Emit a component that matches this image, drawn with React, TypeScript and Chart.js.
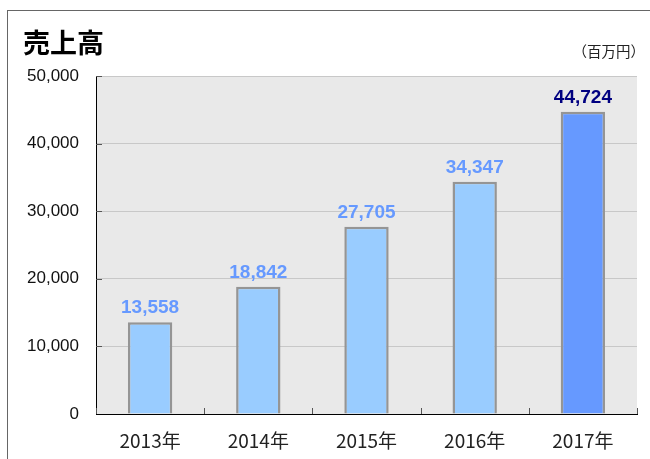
import React, { useEffect, useRef } from "react";
import { Chart, registerables } from "chart.js";

Chart.register(...registerables);

const categories = ["2013年", "2014年", "2015年", "2016年", "2017年"];
const sales = [13558, 18842, 27705, 34347, 44724];
const yMin = 0;
const yMax = 50000;
const yStep = 10000;
const titleText = "売上高";
const unitText = "（百万円）";

const barFill = ["#99ccff", "#99ccff", "#99ccff", "#99ccff", "#6699ff"];
const labelColor = ["#6699ff", "#6699ff", "#6699ff", "#6699ff", "#000080"];

const decorPlugin = {
  id: "decor",
  beforeDraw(chart: any) {
    const { ctx, chartArea } = chart;
    ctx.save();
    ctx.fillStyle = "#ffffff";
    ctx.fillRect(0, 0, chart.width, chart.height);
    // outer frame
    ctx.strokeStyle = "#666666";
    ctx.lineWidth = 1;
    ctx.strokeRect(7.5, 10.5, chart.width + 20, chart.height + 20);
    // plot background
    ctx.fillStyle = "#e9e9e9";
    ctx.fillRect(chartArea.left, chartArea.top, chartArea.right - chartArea.left, chartArea.bottom - chartArea.top);
    // title
    ctx.fillStyle = "#000000";
    ctx.textBaseline = "middle";
    ctx.textAlign = "left";
    ctx.font = "bold 27px 'Noto Sans CJK JP'";
    ctx.fillText(titleText, 23, 43);
    ctx.font = "14.5px 'Noto Sans CJK JP'";
    ctx.textAlign = "right";
    ctx.fillStyle = "#222222";
    ctx.fillText(unitText, 645, 51);
    ctx.restore();
  },
  afterDraw(chart: any) {
    const { ctx, chartArea } = chart;
    const x = chart.scales.x;
    const y = chart.scales.y;
    ctx.save();
    ctx.strokeStyle = "#555555";
    ctx.lineWidth = 1;
    ctx.beginPath();
    for (let i = 0; i <= categories.length; i++) {
      const px = Math.round(x.getPixelForValue(i - 0.5)) + 0.5;
      ctx.moveTo(px, chartArea.bottom);
      ctx.lineTo(px, chartArea.bottom - 6);
    }
    for (let v = yMin + yStep; v <= yMax; v += yStep) {
      const py = Math.round(y.getPixelForValue(v)) + 0.5;
      ctx.moveTo(chartArea.left, py);
      ctx.lineTo(chartArea.left + 6, py);
    }
    ctx.stroke();
    ctx.restore();
  },
  afterDatasetsDraw(chart: any) {
    const { ctx } = chart;
    const meta = chart.getDatasetMeta(0);
    ctx.save();
    ctx.font = "bold 19px 'Liberation Sans', Arial, sans-serif";
    ctx.textAlign = "center";
    ctx.textBaseline = "alphabetic";
    meta.data.forEach((bar: any, i: number) => {
      ctx.fillStyle = labelColor[i];
      ctx.fillText(sales[i].toLocaleString("en-US"), bar.x, bar.y - 9);
    });
    ctx.restore();
  },
};

export default function App() {
  const ref = useRef<HTMLCanvasElement>(null);
  useEffect(() => {
    if (!ref.current) return;
    const chart = new Chart(ref.current, {
      type: "bar",
      data: {
        labels: categories,
        datasets: [
          {
            data: sales,
            backgroundColor: barFill,
            borderColor: "#959595",
            borderWidth: 2.5,
            categoryPercentage: 1,
            barPercentage: 0.41,
          },
        ],
      },
      options: {
        responsive: false,
        animation: false,
        layout: { padding: { left: 0, top: 76, right: 13, bottom: 0 } },
        plugins: {
          legend: { display: false },
          tooltip: { enabled: false },
          title: { display: false },
        },
        scales: {
          x: {
            afterFit: (s: any) => {
              s.height = 45;
            },
            grid: { display: true, drawOnChartArea: false, drawTicks: false },
            border: { display: true, color: "#000000", width: 1 },
            ticks: {
              color: "#222222",
              padding: 15,
              font: { family: "'Noto Sans CJK JP'", size: 19 },
            },
          },
          y: {
            min: yMin,
            max: yMax,
            afterFit: (s: any) => {
              s.width = 96;
            },
            grid: { color: "#c8c8c8", lineWidth: 1, drawTicks: false },
            border: { display: true, color: "#000000", width: 1 },
            ticks: {
              stepSize: yStep,
              color: "#111111",
              padding: 17,
              font: { family: "'Liberation Sans', Arial, sans-serif", size: 17 },
              callback: (v: any) => Number(v).toLocaleString("en-US"),
            },
          },
        },
      },
      plugins: [decorPlugin],
    });
    return () => chart.destroy();
  }, []);
  return (
    <div style={{ position: "absolute", left: 0, top: 0, width: 650, height: 459 }}>
      <canvas ref={ref} width={650} height={459} style={{ display: "block" }} />
    </div>
  );
}
